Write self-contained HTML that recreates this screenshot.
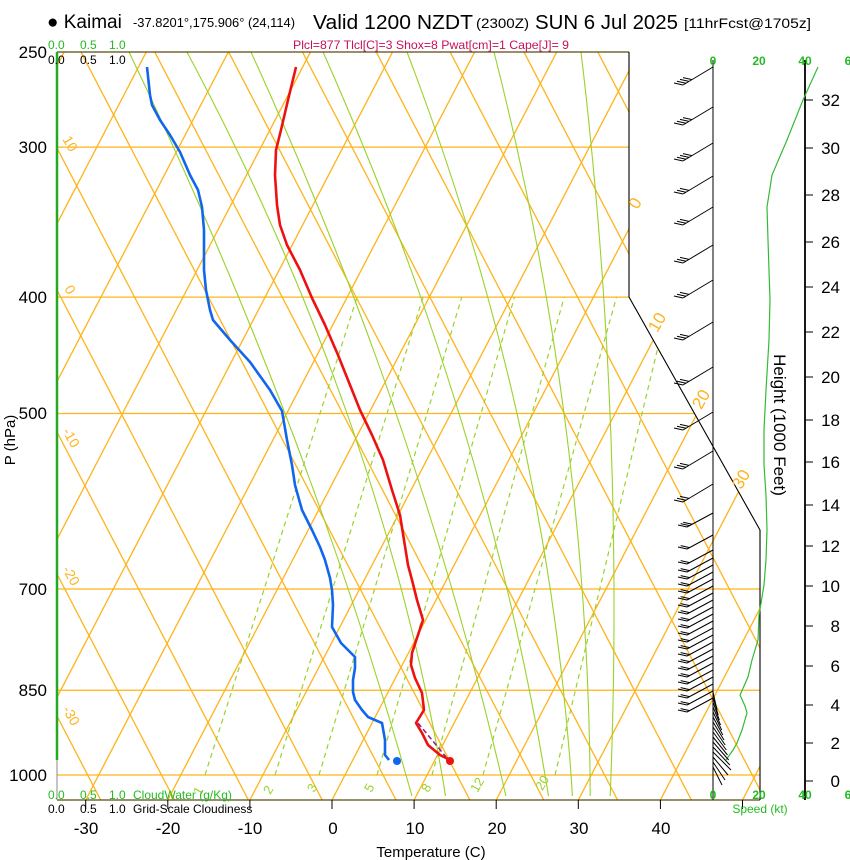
<!DOCTYPE html>
<html><head><meta charset="utf-8"><style>
html,body{margin:0;padding:0;background:#fff;}
svg{display:block;font-family:"Liberation Sans",sans-serif;}
</style></head><body>
<svg id="s" width="850" height="860" viewBox="0 0 850 860" xmlns="http://www.w3.org/2000/svg">
<defs><clipPath id="cp"><polygon points="57,52 629,52 629,297 760,530 760,800 57,800"/></clipPath></defs>
<g id="bg" clip-path="url(#cp)"></g>
<g id="fg"></g>
<text x="47" y="28" font-size="19">● Kaimai</text>
<text x="133" y="27" font-size="12.5" textLength="162" lengthAdjust="spacingAndGlyphs">-37.8201°,175.906° (24,114)</text>
<text x="313" y="29" font-size="20" textLength="160" lengthAdjust="spacingAndGlyphs">Valid 1200 NZDT</text>
<text x="476" y="28" font-size="14" textLength="53" lengthAdjust="spacingAndGlyphs">(2300Z)</text>
<text x="535" y="29" font-size="20" textLength="143" lengthAdjust="spacingAndGlyphs">SUN 6 Jul 2025</text>
<text x="684" y="28" font-size="14" textLength="127" lengthAdjust="spacingAndGlyphs">[11hrFcst@1705z]</text>
<text x="293" y="49" font-size="12" fill="#c8105a" textLength="276" lengthAdjust="spacingAndGlyphs">Plcl=877 Tlcl[C]=3 Shox=8 Pwat[cm]=1 Cape[J]= 9</text>
<g font-size="12" fill="#22bb22"><text x="48" y="49">0.0</text><text x="80" y="49">0.5</text><text x="109" y="49">1.0</text></g>
<g font-size="12" fill="#000"><text x="48" y="64">0.0</text><text x="80" y="64">0.5</text><text x="109" y="64">1.0</text></g>
<g font-size="12" fill="#22bb22"><text x="48" y="799">0.0</text><text x="80" y="799">0.5</text><text x="109" y="799">1.0</text><text x="133" y="799">CloudWater (g/Kg)</text></g>
<g font-size="12" fill="#000"><text x="48" y="813">0.0</text><text x="80" y="813">0.5</text><text x="109" y="813">1.0</text><text x="133" y="813">Grid-Scale Cloudiness</text></g>
<g font-size="17" text-anchor="end"><text x="47" y="58">250</text><text x="47" y="153">300</text><text x="47" y="303">400</text><text x="47" y="419">500</text><text x="47" y="595">700</text><text x="47" y="696">850</text><text x="47" y="781">1000</text></g>
<text transform="translate(15,440) rotate(-90)" font-size="15" text-anchor="middle">P (hPa)</text>
<g font-size="17" text-anchor="middle"><text x="86" y="834">-30</text><text x="168" y="834">-20</text><text x="250" y="834">-10</text><text x="333" y="834">0</text><text x="415" y="834">10</text><text x="497" y="834">20</text><text x="579" y="834">30</text><text x="661" y="834">40</text></g>
<text x="431" y="857" font-size="15" text-anchor="middle">Temperature (C)</text>
<g font-size="12" fill="#22bb22" font-weight="bold" text-anchor="middle"><text x="713" y="65">0</text><text x="759" y="65">20</text><text x="805" y="65">40</text><text x="848" y="65">6</text>
<text x="713" y="799">0</text><text x="759" y="799">20</text><text x="805" y="799">40</text><text x="848" y="799">6</text></g>
<text x="760" y="813" font-size="12" fill="#22bb22" text-anchor="middle">Speed (kt)</text>
<text transform="translate(774,425) rotate(90)" font-size="17" text-anchor="middle">Height (1000 Feet)</text>
<g id="hax" font-size="17"></g>
</svg>
<script>
var NS="http://www.w3.org/2000/svg";
var bg=document.getElementById('bg'),fg=document.getElementById('fg');
function el(p,tag,a){var e=document.createElementNS(NS,tag);for(var k in a)e.setAttribute(k,a[k]);p.appendChild(e);return e;}
function Y(p){return 775-521.5*Math.log(1000/p);}
var OR="#ffb31a";
[300,400,500,700,850,1000].forEach(function(p){el(bg,'line',{x1:57,x2:760,y1:Y(p),y2:Y(p),stroke:OR,'stroke-width':1.2});});
for(var T=-130;T<=50;T+=10){var x0=332+8.21*T;el(bg,'line',{x1:x0,y1:800,x2:x0+0.52*760,y2:40,stroke:OR,'stroke-width':1.3});}
for(var th=-60;th<=120;th+=10){var y0=290-14.2*th;var ya=40,yb=800;el(bg,'line',{x1:57+0.52*(ya-y0),y1:ya,x2:57+0.52*(yb-y0),y2:yb,stroke:OR,'stroke-width':1.3});}
// moist adiabats: quadratic through (y=52,x0),(413,x1),(775,x2)
var MA=[[129,285,406],[187,347,442],[251,396,501],[323,459,545],[407,517,571],[494,564,590],[581,610,611]];
MA.forEach(function(m){var pts=[];for(var y=52;y<=800;y+=8){var t=(y-52)/723;var a=m[0],b=m[1],c=m[2];
 var x=a*(1-t)*(1-2*t)+b*4*t*(1-t)+c*t*(2*t-1);pts.push(x.toFixed(1)+','+y);}
 el(bg,'polyline',{points:pts.join(' '),fill:'none',stroke:'#9ad22a','stroke-width':1.1});});
// mixing ratio lines (1000 -> 400)
var MR=[[205,320],[275,387],[319,427],[377,481],[432,532],[483,584],[555,642]];
MR.forEach(function(m){var y2=297;var x2=m[0]+(m[1]-m[0])*(775-y2)/361.5;
 el(bg,'line',{x1:m[0],y1:775,x2:x2,y2:y2,stroke:'#9ad22a','stroke-width':1.2,'stroke-dasharray':'5,4'});});
el(fg,'line',{x1:57,y1:52,x2:629,y2:52,stroke:'#5a4a10','stroke-width':1.3});
el(fg,'line',{x1:57,y1:800,x2:760,y2:800,stroke:'#5a4a10','stroke-width':1.3});
el(fg,'line',{x1:57,y1:52,x2:57,y2:760,stroke:'#22aa22','stroke-width':2.5});
el(fg,'line',{x1:57,y1:760,x2:57,y2:800,stroke:'#888','stroke-width':1});
el(fg,'polyline',{points:'629,52 629,297 760,530 760,800',fill:'none',stroke:'#000','stroke-width':1.1});
el(fg,'line',{x1:713,y1:60,x2:713,y2:800,stroke:'#000','stroke-width':1});
el(fg,'line',{x1:805,y1:60,x2:805,y2:800,stroke:'#000','stroke-width':1.8});
for(var T=-30;T<=50;T+=10){var x=332+8.21*T;el(fg,'line',{x1:x,y1:800,x2:x,y2:809,stroke:'#000','stroke-width':1});}
function lab(x,y,t,rot,col,fs){var e=el(fg,'text',{x:x,y:y,fill:col,'font-size':fs,'text-anchor':'middle',transform:'rotate('+rot+' '+x+' '+y+')'});e.textContent=t;}
lab(640,206,'0',-60,OR,17);lab(662,325,'10',-60,OR,17);lab(706,402,'20',-60,OR,17);lab(746,482,'30',-60,OR,17);
lab(66,146,'10',60,OR,14);lab(66,292,'0',60,OR,14);lab(67,440,'-10',60,OR,14);lab(67,578,'-20',60,OR,14);lab(67,718,'-30',60,OR,14);
var G='#9ad22a';lab(202,793,'1',-60,G,13);lab(272,792,'2',-60,G,13);lab(316,790,'3',-60,G,13);lab(373,790,'5',-60,G,13);lab(430,790,'8',-60,G,13);lab(481,787,'12',-60,G,13);lab(546,785,'20',-60,G,13);
var hy=[781,743,705,666,626,586,546,505,462,420,377,332,287,242,195,148,100];
var hax=document.getElementById('hax');
hy.forEach(function(y,i){el(fg,'line',{x1:805,y1:y,x2:813,y2:y,stroke:'#000','stroke-width':1});var t=el(hax,'text',{x:840,y:y+6,'text-anchor':'end'});t.textContent=i*2;});
el(fg,'polyline',{points:'818,67 803,100 787,140 772,175 767,207 768,240 769,270 770,300 769,340 766,390 764,430 764,465 766,495 767,530 766,560 764,585 759,615 758,640 752,660 748,677 740,695 745,706 747,713 742,730 737,743 733,750 726,760',fill:'none',stroke:'#33bb33','stroke-width':1.2});
var tops=[67,107,143,176,207,245,280,322,367,412,451,484,513,535,550];
for(var y=558;y<=700;y+=7)tops.push(y);
tops.forEach(function(t,i){var dx=-30,dy=18;if(t>500){dx=-26;dy=14;}
 el(fg,'line',{x1:713,y1:t,x2:713+dx,y2:t+dy,stroke:'#000','stroke-width':1});
 var n=t<150?4:(t<520?3:2);for(var k=0;k<n;k++){var f=1-k*0.1;var px=713+dx*f,py=t+dy*f;el(fg,'line',{x1:px,y1:py,x2:px-9,y2:py-2,stroke:'#000','stroke-width':1});}});
for(var y=700;y<=778;y+=5){var dx=(y<760?(y-700)/60*14+4:18-(y-760)*0.6),dy=18;el(fg,'line',{x1:713,y1:y-8,x2:713+dx,y2:y+dy-8,stroke:'#000','stroke-width':1});}
el(fg,'polyline',{points:'296,67 288,100 281,130 276,150 275,175 277,205 280,225 287,245 300,270 312,298 325,325 338,355 350,385 360,410 372,435 383,460 392,490 400,515 404,540 408,565 412,580 417,600 423,620 418,635 412,653 411,665 415,678 422,693 424,710 416,723 422,733 428,745 440,755 450,760',fill:'none',stroke:'#ee1111','stroke-width':2.6,'stroke-linejoin':'round'});
el(fg,'polyline',{points:'147,67 150,95 152,105 160,120 170,135 180,152 190,175 198,190 202,207 204,230 204,270 206,290 210,310 213,320 230,340 250,362 270,390 282,411 287,440 292,465 295,485 302,510 312,530 320,547 325,560 330,578 332,590 333,605 332,627 341,643 355,657 355,668 353,680 353,692 355,700 362,710 368,717 382,723 385,740 385,755 389,760',fill:'none',stroke:'#1166ee','stroke-width':2.6,'stroke-linejoin':'round'});
el(fg,'line',{x1:418,y1:723,x2:446,y2:757,stroke:'#882288','stroke-width':1.5,'stroke-dasharray':'5,3'});
el(fg,'circle',{cx:450,cy:761,r:4,fill:'#ee1111'});
el(fg,'circle',{cx:397,cy:761,r:4,fill:'#1166ee'});
</script>
</body></html>
